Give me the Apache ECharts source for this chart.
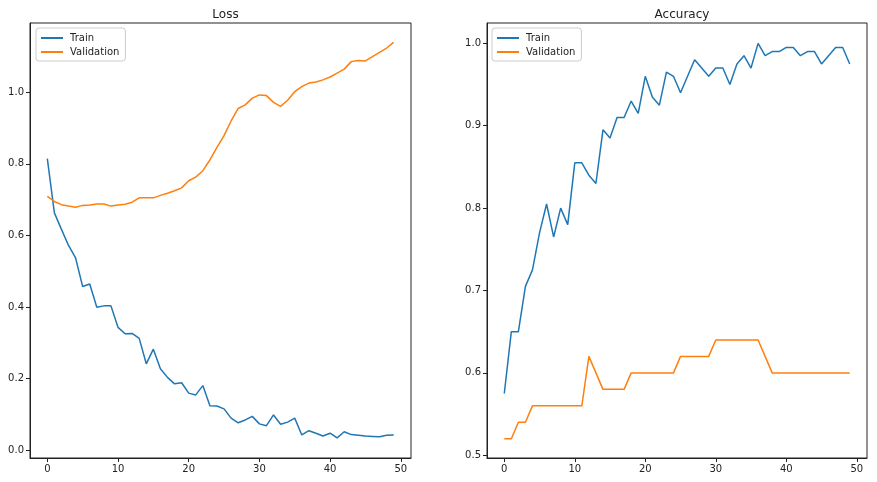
<!DOCTYPE html>
<html lang="en">
<head>
    <meta charset="UTF-8">
    <title>Loss / Accuracy</title>
    <script type="text/javascript" src="https://cdn.jsdelivr.net/npm/echarts@6/dist/echarts.min.js"></script>
    <style>
        html, body { margin: 0; padding: 0; background: #fff; }
        #main { width: 877px; height: 482px; }
    </style>
</head>
<body>
<div id="main"></div>
<script type="text/javascript">
    // epochs (x axis)
    var epochs = [0, 1, 2, 3, 4, 5, 6, 7, 8, 9, 10, 11, 12, 13, 14, 15, 16, 17, 18, 19,
        20, 21, 22, 23, 24, 25, 26, 27, 28, 29, 30, 31, 32, 33, 34, 35, 36, 37, 38, 39,
        40, 41, 42, 43, 44, 45, 46, 47, 48, 49];

    var trainLoss = [0.815, 0.663, 0.617, 0.572, 0.537, 0.457, 0.464, 0.399, 0.403, 0.403,
        0.343, 0.325, 0.326, 0.312, 0.241, 0.282, 0.227, 0.203, 0.185, 0.188,
        0.159, 0.154, 0.180, 0.124, 0.123, 0.115, 0.089, 0.076, 0.084, 0.094,
        0.073, 0.068, 0.098, 0.072, 0.078, 0.089, 0.042, 0.054, 0.047, 0.039,
        0.047, 0.034, 0.051, 0.043, 0.041, 0.039, 0.038, 0.037, 0.041, 0.042];

    var valLoss = [0.709, 0.695, 0.686, 0.682, 0.679, 0.684, 0.685, 0.688, 0.688, 0.682,
        0.685, 0.687, 0.693, 0.705, 0.705, 0.705, 0.712, 0.718, 0.725, 0.733,
        0.753, 0.763, 0.781, 0.811, 0.846, 0.879, 0.920, 0.955, 0.965, 0.984,
        0.993, 0.991, 0.972, 0.961, 0.978, 1.002, 1.016, 1.026, 1.029, 1.035,
        1.043, 1.054, 1.065, 1.086, 1.089, 1.088, 1.100, 1.112, 1.124, 1.140];

    var trainAcc = [0.575, 0.650, 0.650, 0.705, 0.725, 0.770, 0.805, 0.765, 0.800, 0.780,
        0.855, 0.855, 0.840, 0.830, 0.895, 0.885, 0.910, 0.910, 0.930, 0.915,
        0.960, 0.935, 0.925, 0.965, 0.960, 0.940, 0.960, 0.980, 0.970, 0.960,
        0.970, 0.970, 0.950, 0.975, 0.985, 0.970, 1.000, 0.985, 0.990, 0.990,
        0.995, 0.995, 0.985, 0.990, 0.990, 0.975, 0.985, 0.995, 0.995, 0.975];

    var valAcc = [0.52, 0.52, 0.54, 0.54, 0.56, 0.56, 0.56, 0.56, 0.56, 0.56,
        0.56, 0.56, 0.62, 0.60, 0.58, 0.58, 0.58, 0.58, 0.60, 0.60,
        0.60, 0.60, 0.60, 0.60, 0.60, 0.62, 0.62, 0.62, 0.62, 0.62,
        0.64, 0.64, 0.64, 0.64, 0.64, 0.64, 0.64, 0.62, 0.60, 0.60,
        0.60, 0.60, 0.60, 0.60, 0.60, 0.60, 0.60, 0.60, 0.60, 0.60];

    // tick labels
    var xTicks = [0, 10, 20, 30, 40, 50];
    var lossTicks = [0.0, 0.2, 0.4, 0.6, 0.8, 1.0];
    var accTicks = [0.5, 0.6, 0.7, 0.8, 0.9, 1.0];

    var seriesNames = ['Train', 'Validation'];
    var colors = ['#1f77b4', '#ff7f0e'];

    function pairs(xs, ys) {
        var out = [];
        for (var i = 0; i < ys.length; i++) out.push([xs[i], ys[i]]);
        return out;
    }

    var font = 'DejaVu Sans';
    var spine = '#222';

    function xAxisFor(idx) {
        return {
            type: 'value', gridIndex: idx, min: -2.45, max: 51.45,
            splitLine: {show: false},
            axisLine: {show: true, onZero: false, lineStyle: {color: spine, width: 1}},
            axisTick: {show: true, inside: false, length: 4, customValues: xTicks, lineStyle: {color: spine}},
            axisLabel: {customValues: xTicks, color: '#222', fontFamily: font, fontSize: 10, margin: 6}
        };
    }

    function yAxisFor(idx, min, max, ticks) {
        return {
            type: 'value', gridIndex: idx, min: min, max: max,
            splitLine: {show: false},
            axisLine: {show: true, onZero: false, lineStyle: {color: spine, width: 1}},
            axisTick: {show: true, inside: false, length: 4, customValues: ticks, lineStyle: {color: spine}},
            axisLabel: {
                customValues: ticks, color: '#222', fontFamily: font, fontSize: 10, margin: 6,
                formatter: function (v) { return v.toFixed(1); }
            }
        };
    }

    function legendAt(left) {
        return {
            orient: 'vertical', left: left, top: 28,
            data: seriesNames,
            icon: 'rect', itemWidth: 22, itemHeight: 2, itemGap: 4,
            padding: [5, 6, 4, 5],
            borderColor: '#ccc', borderWidth: 1, borderRadius: 3,
            backgroundColor: 'rgba(255,255,255,0.8)',
            selectedMode: false,
            textStyle: {fontFamily: font, fontSize: 10, color: '#222', padding: [0, 0, 0, 2]}
        };
    }

    function lineSeries(name, x, y, data, color) {
        return {
            name: name, type: 'line', xAxisIndex: x, yAxisIndex: y,
            data: data, showSymbol: false, symbol: 'none',
            lineStyle: {color: color, width: 1.5},
            itemStyle: {color: color}
        };
    }

    var myChart = echarts.init(document.getElementById('main'), null, {renderer: 'canvas'});
    var option = {
        animation: false,
        backgroundColor: '#fff',
        title: [
            {text: 'Loss', left: 220.5, top: 4, textAlign: 'center',
                textStyle: {fontFamily: font, fontSize: 12, fontWeight: 'normal', color: '#222'}},
            {text: 'Accuracy', left: 677, top: 4, textAlign: 'center',
                textStyle: {fontFamily: font, fontSize: 12, fontWeight: 'normal', color: '#222'}}
        ],
        legend: [legendAt(36), legendAt(492)],
        grid: [
            {left: 30, top: 23, width: 381, height: 435, show: true, borderColor: spine, borderWidth: 1},
            {left: 487, top: 23, width: 380, height: 435, show: true, borderColor: spine, borderWidth: 1}
        ],
        xAxis: [xAxisFor(0), xAxisFor(1)],
        yAxis: [
            yAxisFor(0, -0.0224, 1.194, lossTicks),
            yAxisFor(1, 0.4967, 1.0247, accTicks)
        ],
        series: [
            lineSeries('Train', 0, 0, pairs(epochs, trainLoss), colors[0]),
            lineSeries('Validation', 0, 0, pairs(epochs, valLoss), colors[1]),
            lineSeries('Train', 1, 1, pairs(epochs, trainAcc), colors[0]),
            lineSeries('Validation', 1, 1, pairs(epochs, valAcc), colors[1])
        ]
    };
    myChart.setOption(option);
</script>
</body>
</html>
